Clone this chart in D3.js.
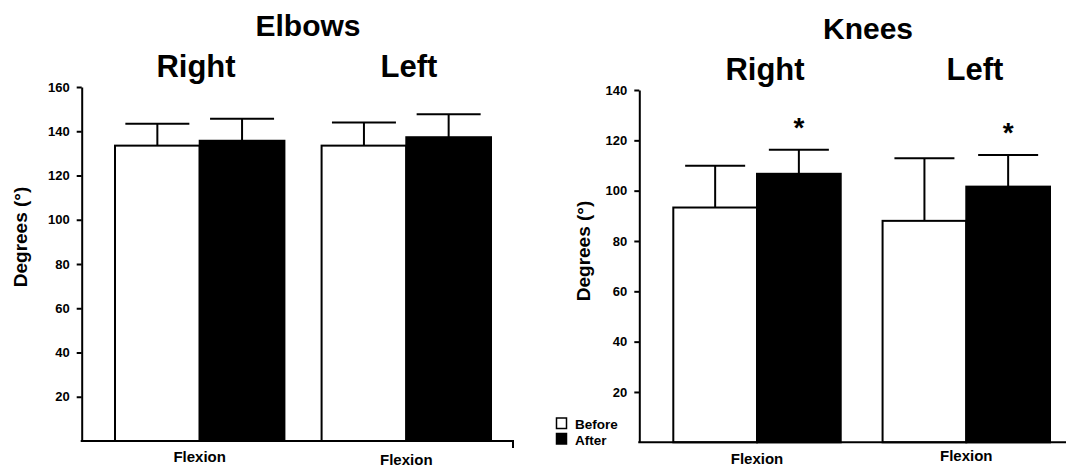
<!DOCTYPE html>
<meta charset="utf-8">
<script src="https://d3js.org/d3.v7.min.js"></script>
<style>
  body { margin: 0; background: #fff; }
  svg text { font-family: "Liberation Sans", Arial, sans-serif; font-weight: bold; fill: #000; }
  .tick text { font-size: 13px; }
  .tick line, .domain { stroke: #000; stroke-width: 2px; }
</style>
<div id="chart"></div>
<script>
  // groups and series
  var sides = ["Right", "Left"];
  var series = ["Before", "After"];

  // elbows flexion (degrees)
  var elbowBefore = [133.5, 133.5];
  var elbowAfter = [135.7, 137.3];
  var elbowBeforeSD = [9.9, 10.4];
  var elbowAfterSD = [10.0, 10.4];
  var elbowTicks = [20, 40, 60, 80, 100, 120, 140, 160];

  // knees flexion (degrees)
  var kneeBefore = [93.3, 88.0];
  var kneeAfter = [106.7, 101.6];
  var kneeBeforeSD = [16.6, 24.9];
  var kneeAfterSD = [9.6, 12.6];
  var kneeTicks = [20, 40, 60, 80, 100, 120, 140];
  var kneeSig = ["*", "*"];

  var svg = d3.select("#chart").append("svg")
    .attr("width", 1066)
    .attr("height", 468);

  var panels = [
    {
      title: "Elbows", before: elbowBefore, after: elbowAfter,
      beforeSD: elbowBeforeSD, afterSD: elbowAfterSD, ticks: elbowTicks, sig: null,
      yMax: 160, yRange: [441, 87], axisX: 81.7, barRange: [115, 491], pad: 0.18,
      xEnd: 514, endTick: true, capHalf: 32,
      titleX: 308, titleY: 36, sideX: [196, 409], sideY: 77,
      flexY: [462, 465], ylabX: 27, ylabY: 237
    },
    {
      title: "Knees", before: kneeBefore, after: kneeAfter,
      beforeSD: kneeBeforeSD, afterSD: kneeAfterSD, ticks: kneeTicks, sig: kneeSig,
      yMax: 140, yRange: [442.3, 90], axisX: 639.3, barRange: [673.3, 1050], pad: 0.2,
      xEnd: 1066, endTick: false, capHalf: 30,
      titleX: 868, titleY: 39, sideX: [765, 975], sideY: 80,
      flexY: [464, 461], ylabX: 590, ylabY: 251
    }
  ];

  panels.forEach(drawPanel);

  function drawPanel(p) {
    var g = svg.append("g");

    var y = d3.scaleLinear().domain([0, p.yMax]).range(p.yRange);
    var x0 = d3.scaleBand().domain(sides).range(p.barRange).paddingInner(p.pad);
    var x1 = d3.scaleBand().domain(series).range([0, x0.bandwidth()]);

    var rows = [];
    sides.forEach(function (s, i) {
      rows.push({ side: s, serie: "Before", v: p.before[i], sd: p.beforeSD[i], sig: null });
      rows.push({ side: s, serie: "After", v: p.after[i], sd: p.afterSD[i], sig: p.sig ? p.sig[i] : null });
    });

    // error bars (drawn first so the bar outline sits on top)
    var err = g.selectAll("g.err")
      .data(rows)
      .enter()
      .append("g")
      .attr("class", "err");
    err.append("line")
      .attr("x1", d => x0(d.side) + x1(d.serie) + x1.bandwidth() / 2)
      .attr("x2", d => x0(d.side) + x1(d.serie) + x1.bandwidth() / 2)
      .attr("y1", d => y(d.v))
      .attr("y2", d => y(d.v + d.sd))
      .attr("stroke", "#000")
      .attr("stroke-width", 2);
    err.append("line")
      .attr("x1", d => x0(d.side) + x1(d.serie) + x1.bandwidth() / 2 - p.capHalf)
      .attr("x2", d => x0(d.side) + x1(d.serie) + x1.bandwidth() / 2 + p.capHalf)
      .attr("y1", d => y(d.v + d.sd))
      .attr("y2", d => y(d.v + d.sd))
      .attr("stroke", "#000")
      .attr("stroke-width", 2);

    // bars
    g.selectAll("rect.bar")
      .data(rows)
      .enter()
      .append("rect")
      .attr("class", "bar")
      .attr("x", d => x0(d.side) + x1(d.serie))
      .attr("y", d => y(d.v))
      .attr("width", x1.bandwidth())
      .attr("height", d => y(0) - y(d.v))
      .attr("fill", d => d.serie == "Before" ? "#fff" : "#000")
      .attr("stroke", "#000")
      .attr("stroke-width", 2);

    // significance stars
    g.selectAll("text.sig")
      .data(rows.filter(d => d.sig))
      .enter()
      .append("text")
      .attr("class", "sig")
      .attr("x", d => x0(d.side) + x1(d.serie) + x1.bandwidth() / 2)
      .attr("y", d => y(d.v + d.sd) - 13)
      .attr("text-anchor", "middle")
      .style("font-size", "28px")
      .text(d => d.sig);

    // y axis
    g.append("g")
      .attr("transform", "translate(" + p.axisX + ",0)")
      .call(d3.axisLeft(y).tickValues(p.ticks).tickSize(5).tickSizeOuter(0).tickPadding(7));

    // x axis line
    g.append("line")
      .attr("x1", p.axisX - 1)
      .attr("x2", p.xEnd)
      .attr("y1", y(0))
      .attr("y2", y(0))
      .attr("stroke", "#000")
      .attr("stroke-width", 2);
    if (p.endTick) {
      g.append("line")
        .attr("x1", p.xEnd - 1)
        .attr("x2", p.xEnd - 1)
        .attr("y1", y(0))
        .attr("y2", y(0) + 7)
        .attr("stroke", "#000")
        .attr("stroke-width", 2);
    }

    // category labels under the axis
    g.selectAll("text.flex")
      .data(sides)
      .enter()
      .append("text")
      .attr("class", "flex")
      .attr("x", d => x0(d) + x0.bandwidth() / 2)
      .attr("y", (d, i) => p.flexY[i])
      .attr("text-anchor", "middle")
      .style("font-size", "15px")
      .text("Flexion");

    // titles
    g.append("text")
      .attr("x", p.titleX)
      .attr("y", p.titleY)
      .attr("text-anchor", "middle")
      .style("font-size", "30px")
      .text(p.title);
    g.selectAll("text.side")
      .data(sides)
      .enter()
      .append("text")
      .attr("class", "side")
      .attr("x", (d, i) => p.sideX[i])
      .attr("y", p.sideY)
      .attr("text-anchor", "middle")
      .style("font-size", "31px")
      .text(d => d);

    // y label
    g.append("text")
      .attr("transform", "translate(" + p.ylabX + "," + p.ylabY + ") rotate(-90)")
      .attr("text-anchor", "middle")
      .style("font-size", "19px")
      .text("Degrees (°)");
  }

  // legend
  var legend = svg.append("g").attr("transform", "translate(556,417)");
  legend.selectAll("rect")
    .data(series)
    .enter()
    .append("rect")
    .attr("x", 0.5)
    .attr("y", (d, i) => i * 15.5 + 1)
    .attr("width", 10)
    .attr("height", 10.5)
    .attr("fill", d => d == "Before" ? "#fff" : "#000")
    .attr("stroke", "#000")
    .attr("stroke-width", 1.5);
  legend.selectAll("text")
    .data(series)
    .enter()
    .append("text")
    .attr("x", 19)
    .attr("y", (d, i) => i * 15.5 + 12)
    .style("font-size", "13.5px")
    .text(d => d);
</script>
